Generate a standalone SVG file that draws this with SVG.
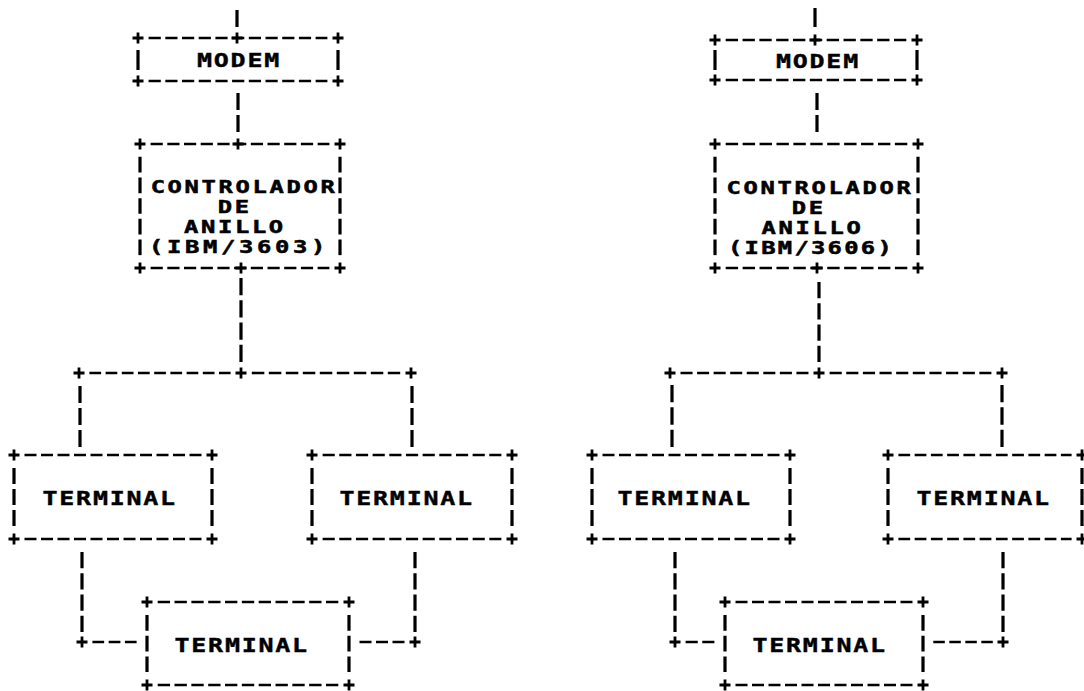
<svg xmlns="http://www.w3.org/2000/svg" xmlns:xlink="http://www.w3.org/1999/xlink" width="1084" height="691" viewBox="0 0 1084 691">
<style>
.h{stroke:#000;stroke-width:2.6;fill:none}
.v{stroke:#000;stroke-width:3.2;fill:none}
.t{font-family:"DejaVu Sans Mono","Liberation Mono",monospace;font-weight:bold;font-size:20px;letter-spacing:1.4px;fill:#000;stroke:#000;stroke-width:0.4}
.c{font-size:17px;letter-spacing:1.9px;stroke-width:0.5}
</style>
<defs>
<path id="p" d="M-5.5,0H5.5M0,-5.5V5.5" stroke="#000" stroke-width="2.8" fill="none"/>
</defs>
<rect width="1084" height="691" fill="#fff"/>

<!-- ========== LEFT DIAGRAM ========== -->
<g id="left-modem">
<line class="h" x1="148.6" y1="38" x2="327.4" y2="38" stroke-dasharray="12.2 4.5"/>
<line class="h" x1="148.6" y1="81" x2="327.4" y2="81" stroke-dasharray="12.2 4.5"/>
<line class="v" x1="138" y1="50" x2="138" y2="70"/>
<line class="v" x1="338" y1="50" x2="338" y2="70"/>
<use xlink:href="#p" x="138" y="38"/><use xlink:href="#p" x="237" y="38"/><use xlink:href="#p" x="338" y="38"/>
<use xlink:href="#p" x="138" y="81"/><use xlink:href="#p" x="338" y="81"/>
<text class="t" transform="scale(1.25,1)" x="157.6" y="67">MODEM</text>
</g>

<g id="left-controller">
<line class="h" x1="150.6" y1="144" x2="329.4" y2="144" stroke-dasharray="12.2 4.5"/>
<line class="h" x1="150.6" y1="268" x2="329.4" y2="268" stroke-dasharray="12.2 4.5"/>
<line class="v" x1="140" y1="156.8" x2="140" y2="255.2" stroke-dasharray="15.67 5"/>
<line class="v" x1="340" y1="156.8" x2="340" y2="255.2" stroke-dasharray="15.67 5"/>
<use xlink:href="#p" x="140" y="144"/><use xlink:href="#p" x="238" y="144"/><use xlink:href="#p" x="340" y="144"/>
<use xlink:href="#p" x="140" y="268"/><use xlink:href="#p" x="241" y="268"/><use xlink:href="#p" x="340" y="268"/>
<text class="t c" transform="scale(1.4,1)"><tspan x="107.6" y="193">CONTROLADOR</tspan><tspan x="155.5" y="213">DE</tspan><tspan x="131.4" y="233">ANILLO</tspan><tspan x="106.4" y="253" style="letter-spacing:2.63px">(IBM/3603)</tspan></text>
</g>

<g id="left-terminal-1">
<line class="h" x1="24.5" y1="455" x2="201.5" y2="455" stroke-dasharray="12 4.5"/>
<line class="h" x1="24.5" y1="539" x2="201.5" y2="539" stroke-dasharray="12 4.5"/>
<line class="v" x1="14" y1="468" x2="14" y2="526" stroke-dasharray="16 5"/>
<line class="v" x1="212" y1="468" x2="212" y2="526" stroke-dasharray="16 5"/>
<use xlink:href="#p" x="14" y="455"/><use xlink:href="#p" x="212" y="455"/>
<use xlink:href="#p" x="14" y="539"/><use xlink:href="#p" x="212" y="539"/>
<text class="t" transform="scale(1.25,1)" x="34" y="505">TERMINAL</text>
</g>

<g id="left-terminal-2">
<line class="h" x1="322.6" y1="455" x2="501.4" y2="455" stroke-dasharray="12.17 4.5"/>
<line class="h" x1="322.6" y1="539" x2="501.4" y2="539" stroke-dasharray="12.17 4.5"/>
<line class="v" x1="312" y1="468" x2="312" y2="526" stroke-dasharray="16 5"/>
<line class="v" x1="512" y1="468" x2="512" y2="526" stroke-dasharray="16 5"/>
<use xlink:href="#p" x="312" y="455"/><use xlink:href="#p" x="512" y="455"/>
<use xlink:href="#p" x="312" y="539"/><use xlink:href="#p" x="512" y="539"/>
<text class="t" transform="scale(1.25,1)" x="271.6" y="505">TERMINAL</text>
</g>

<g id="left-terminal-3">
<line class="h" x1="157.7" y1="602" x2="338.3" y2="602" stroke-dasharray="12.33 4.5"/>
<line class="h" x1="157.7" y1="685" x2="338.3" y2="685" stroke-dasharray="12.33 4.5"/>
<line class="v" x1="147" y1="614.9" x2="147" y2="672.1" stroke-dasharray="15.75 5"/>
<line class="v" x1="349" y1="614.9" x2="349" y2="672.1" stroke-dasharray="15.75 5"/>
<use xlink:href="#p" x="147" y="602"/><use xlink:href="#p" x="349" y="602"/>
<use xlink:href="#p" x="147" y="685"/><use xlink:href="#p" x="349" y="685"/>
<text class="t" transform="scale(1.25,1)" x="139.6" y="652">TERMINAL</text>
</g>

<!-- ========== RIGHT DIAGRAM ========== -->
<g id="right-modem">
<line class="h" x1="725.7" y1="40" x2="906.3" y2="40" stroke-dasharray="12.33 4.5"/>
<line class="h" x1="725.7" y1="80" x2="906.3" y2="80" stroke-dasharray="12.33 4.5"/>
<line class="v" x1="715" y1="50" x2="715" y2="70"/>
<line class="v" x1="917" y1="50" x2="917" y2="70"/>
<use xlink:href="#p" x="715" y="40"/><use xlink:href="#p" x="815" y="40"/><use xlink:href="#p" x="917" y="40"/>
<use xlink:href="#p" x="715" y="80"/><use xlink:href="#p" x="917" y="80"/>
<text class="t" transform="scale(1.25,1)" x="620.8" y="68">MODEM</text>
</g>

<g id="right-controller">
<line class="h" x1="725.7" y1="144" x2="907.3" y2="144" stroke-dasharray="12.42 4.5"/>
<line class="h" x1="725.7" y1="268" x2="907.3" y2="268" stroke-dasharray="12.42 4.5"/>
<line class="v" x1="715" y1="156.8" x2="715" y2="255.2" stroke-dasharray="15.67 5"/>
<line class="v" x1="918" y1="156.8" x2="918" y2="255.2" stroke-dasharray="15.67 5"/>
<use xlink:href="#p" x="715" y="144"/><use xlink:href="#p" x="918" y="144"/>
<use xlink:href="#p" x="715" y="268"/><use xlink:href="#p" x="817" y="268"/><use xlink:href="#p" x="918" y="268"/>
<text class="t c" transform="scale(1.4,1)"><tspan x="519" y="194">CONTROLADOR</tspan><tspan x="565.5" y="214">DE</tspan><tspan x="544" y="234">ANILLO</tspan><tspan x="520" y="254" style="letter-spacing:1.63px">(IBM/3606)</tspan></text>
</g>

<g id="right-terminal-1">
<line class="h" x1="602.5" y1="455" x2="779.5" y2="455" stroke-dasharray="12 4.5"/>
<line class="h" x1="602.5" y1="539" x2="779.5" y2="539" stroke-dasharray="12 4.5"/>
<line class="v" x1="592" y1="468" x2="592" y2="526" stroke-dasharray="16 5"/>
<line class="v" x1="790" y1="468" x2="790" y2="526" stroke-dasharray="16 5"/>
<use xlink:href="#p" x="592" y="455"/><use xlink:href="#p" x="790" y="455"/>
<use xlink:href="#p" x="592" y="539"/><use xlink:href="#p" x="790" y="539"/>
<text class="t" transform="scale(1.25,1)" x="494" y="505">TERMINAL</text>
</g>

<g id="right-terminal-2">
<line class="h" x1="898.4" y1="455" x2="1071.6" y2="455" stroke-dasharray="11.75 4.5"/>
<line class="h" x1="898.4" y1="539" x2="1071.6" y2="539" stroke-dasharray="11.75 4.5"/>
<line class="v" x1="888" y1="468" x2="888" y2="526" stroke-dasharray="16 5"/>
<line class="v" x1="1082" y1="468" x2="1082" y2="526" stroke-dasharray="16 5"/>
<use xlink:href="#p" x="888" y="455"/><use xlink:href="#p" x="1082" y="455"/>
<use xlink:href="#p" x="888" y="539"/><use xlink:href="#p" x="1082" y="539"/>
<text class="t" transform="scale(1.25,1)" x="733.2" y="505">TERMINAL</text>
</g>

<g id="right-terminal-3">
<line class="h" x1="735.5" y1="602" x2="912.5" y2="602" stroke-dasharray="12 4.5"/>
<line class="h" x1="735.5" y1="685" x2="912.5" y2="685" stroke-dasharray="12 4.5"/>
<line class="v" x1="725" y1="614.9" x2="725" y2="672.1" stroke-dasharray="15.75 5"/>
<line class="v" x1="923" y1="614.9" x2="923" y2="672.1" stroke-dasharray="15.75 5"/>
<use xlink:href="#p" x="725" y="602"/><use xlink:href="#p" x="923" y="602"/>
<use xlink:href="#p" x="725" y="685"/><use xlink:href="#p" x="923" y="685"/>
<text class="t" transform="scale(1.25,1)" x="602" y="652">TERMINAL</text>
</g>

<!-- ========== CONNECTORS ========== -->
<g id="connectors">
<!-- left -->
<line class="v" x1="237" y1="10" x2="237" y2="27"/>
<line class="v" x1="238" y1="93" x2="238" y2="132" stroke-dasharray="17 5"/>
<line class="v" x1="241" y1="278" x2="241" y2="362" stroke-dasharray="17.25 5"/>
<line class="h" x1="89.4" y1="373" x2="230.6" y2="373" stroke-dasharray="11.7 4.5"/>
<line class="h" x1="251.8" y1="373" x2="400.2" y2="373" stroke-dasharray="12.5 4.5"/>
<use xlink:href="#p" x="79" y="373"/><use xlink:href="#p" x="241" y="373"/><use xlink:href="#p" x="411" y="373"/>
<line class="v" x1="80" y1="386" x2="80" y2="447" stroke-dasharray="17 5"/>
<line class="v" x1="412" y1="386" x2="412" y2="447" stroke-dasharray="17 5"/>
<line class="v" x1="82" y1="552" x2="82" y2="632" stroke-dasharray="16.25 5"/>
<use xlink:href="#p" x="82" y="642"/>
<line class="h" x1="92.4" y1="642" x2="136.6" y2="642" stroke-dasharray="11.75 4.5"/>
<line class="v" x1="415" y1="552" x2="415" y2="632" stroke-dasharray="16.25 5"/>
<use xlink:href="#p" x="415" y="642"/>
<line class="h" x1="359.5" y1="642" x2="404.5" y2="642" stroke-dasharray="12 4.5"/>
<!-- right -->
<line class="v" x1="815" y1="8" x2="815" y2="27"/>
<line class="v" x1="817" y1="93" x2="817" y2="132" stroke-dasharray="17 5"/>
<line class="v" x1="819" y1="282" x2="819" y2="362" stroke-dasharray="16.25 5"/>
<line class="h" x1="680.5" y1="373" x2="808.5" y2="373" stroke-dasharray="12.06 4.5"/>
<line class="h" x1="829.6" y1="373" x2="991.4" y2="373" stroke-dasharray="12.14 4.5"/>
<use xlink:href="#p" x="670" y="373"/><use xlink:href="#p" x="819" y="373"/><use xlink:href="#p" x="1002" y="373"/>
<line class="v" x1="672" y1="385" x2="672" y2="447" stroke-dasharray="17.33 5"/>
<line class="v" x1="1002" y1="385" x2="1002" y2="447" stroke-dasharray="17.33 5"/>
<line class="v" x1="675" y1="552" x2="675" y2="632" stroke-dasharray="16.25 5"/>
<use xlink:href="#p" x="675" y="642"/>
<line class="h" x1="685.6" y1="642" x2="714.4" y2="642" stroke-dasharray="12.17 4.5"/>
<line class="v" x1="1003" y1="552" x2="1003" y2="632" stroke-dasharray="16.25 5"/>
<use xlink:href="#p" x="1003" y="642"/>
<line class="h" x1="933.3" y1="642" x2="992.8" y2="642" stroke-dasharray="11.5 4.5"/>
</g>
</svg>
